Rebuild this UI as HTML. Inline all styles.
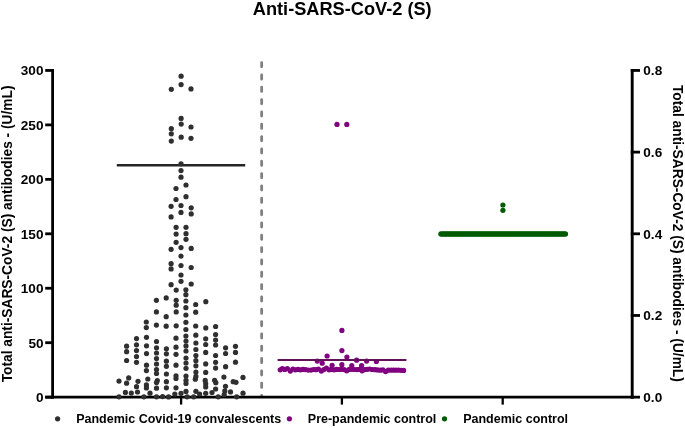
<!DOCTYPE html>
<html><head><meta charset="utf-8"><title>Anti-SARS-CoV-2 (S)</title>
<style>
html,body{margin:0;padding:0;background:#fff;}
body{width:685px;height:428px;overflow:hidden;}
svg{display:block;will-change:transform;font-family:"Liberation Sans", sans-serif;}
text{fill:#000;}
</style></head><body>
<svg width="685" height="428" viewBox="0 0 685 428">
<rect width="685" height="428" fill="#ffffff"/>
<text x="252.8" y="14.9" font-size="18.2" font-weight="bold">Anti-SARS-CoV-2 (S)</text>
<line x1="261.65" y1="62.6" x2="261.65" y2="396" stroke="#808080" stroke-width="2.8" stroke-linecap="round" stroke-dasharray="4.2 8.13"/>
<line x1="52.6" y1="69.0" x2="52.6" y2="398.6" stroke="#000" stroke-width="2.8"/>
<line x1="45.2" y1="397.15" x2="54" y2="397.15" stroke="#000" stroke-width="2.8"/>
<text x="43.5" y="402.05" font-size="13.6" font-weight="bold" text-anchor="end">0</text>
<line x1="45.2" y1="342.70" x2="54" y2="342.70" stroke="#000" stroke-width="2.8"/>
<text x="43.5" y="347.60" font-size="13.6" font-weight="bold" text-anchor="end">50</text>
<line x1="45.2" y1="288.25" x2="54" y2="288.25" stroke="#000" stroke-width="2.8"/>
<text x="43.5" y="293.15" font-size="13.6" font-weight="bold" text-anchor="end">100</text>
<line x1="45.2" y1="233.80" x2="54" y2="233.80" stroke="#000" stroke-width="2.8"/>
<text x="43.5" y="238.70" font-size="13.6" font-weight="bold" text-anchor="end">150</text>
<line x1="45.2" y1="179.35" x2="54" y2="179.35" stroke="#000" stroke-width="2.8"/>
<text x="43.5" y="184.25" font-size="13.6" font-weight="bold" text-anchor="end">200</text>
<line x1="45.2" y1="124.90" x2="54" y2="124.90" stroke="#000" stroke-width="2.8"/>
<text x="43.5" y="129.80" font-size="13.6" font-weight="bold" text-anchor="end">250</text>
<line x1="45.2" y1="70.45" x2="54" y2="70.45" stroke="#000" stroke-width="2.8"/>
<text x="43.5" y="75.35" font-size="13.6" font-weight="bold" text-anchor="end">300</text>
<line x1="45.2" y1="397.15" x2="634" y2="397.15" stroke="#000" stroke-width="2.9"/>
<line x1="181.1" y1="397.15" x2="181.1" y2="404.6" stroke="#000" stroke-width="2.3"/>
<line x1="341.9" y1="397.15" x2="341.9" y2="404.6" stroke="#000" stroke-width="2.3"/>
<line x1="502.7" y1="397.15" x2="502.7" y2="404.6" stroke="#000" stroke-width="2.3"/>
<line x1="632.2" y1="69.0" x2="632.2" y2="398.6" stroke="#000" stroke-width="2.9"/>
<line x1="630.8" y1="397.15" x2="640" y2="397.15" stroke="#000" stroke-width="2.8"/>
<text x="643.3" y="402.05" font-size="13.6" font-weight="bold">0.0</text>
<line x1="630.8" y1="315.47" x2="640" y2="315.47" stroke="#000" stroke-width="2.8"/>
<text x="643.3" y="320.37" font-size="13.6" font-weight="bold">0.2</text>
<line x1="630.8" y1="233.80" x2="640" y2="233.80" stroke="#000" stroke-width="2.8"/>
<text x="643.3" y="238.70" font-size="13.6" font-weight="bold">0.4</text>
<line x1="630.8" y1="152.12" x2="640" y2="152.12" stroke="#000" stroke-width="2.8"/>
<text x="643.3" y="157.02" font-size="13.6" font-weight="bold">0.6</text>
<line x1="630.8" y1="70.45" x2="640" y2="70.45" stroke="#000" stroke-width="2.8"/>
<text x="643.3" y="75.35" font-size="13.6" font-weight="bold">0.8</text>
<text transform="translate(11.9 233.9) rotate(-90)" font-size="13.75" font-weight="bold" text-anchor="middle">Total anti-SARS-CoV-2 (S) antibodies - (U/mL)</text>
<text transform="translate(673.1 233.4) rotate(90)" font-size="13.75" font-weight="bold" text-anchor="middle">Total anti-SARS-CoV-2 (S) antibodies - (U/mL)</text>
<line x1="116.8" y1="165.3" x2="245.2" y2="165.3" stroke="#262626" stroke-width="2.4"/>
<circle cx="181.1" cy="76.2" r="2.6" fill="#2f2f2f"/>
<circle cx="181.1" cy="84.6" r="2.6" fill="#2f2f2f"/>
<circle cx="171.3" cy="89.3" r="2.6" fill="#2f2f2f"/>
<circle cx="191.0" cy="88.9" r="2.6" fill="#2f2f2f"/>
<circle cx="181.1" cy="118.4" r="2.6" fill="#2f2f2f"/>
<circle cx="181.2" cy="124.1" r="2.6" fill="#2f2f2f"/>
<circle cx="171.3" cy="128.7" r="2.6" fill="#2f2f2f"/>
<circle cx="191.0" cy="127.0" r="2.6" fill="#2f2f2f"/>
<circle cx="171.3" cy="133.8" r="2.6" fill="#2f2f2f"/>
<circle cx="181.2" cy="137.2" r="2.6" fill="#2f2f2f"/>
<circle cx="191.0" cy="138.3" r="2.6" fill="#2f2f2f"/>
<circle cx="171.3" cy="141.1" r="2.6" fill="#2f2f2f"/>
<circle cx="181.0" cy="163.8" r="2.6" fill="#2f2f2f"/>
<circle cx="181.0" cy="170.6" r="2.6" fill="#2f2f2f"/>
<circle cx="181.0" cy="177.2" r="2.6" fill="#2f2f2f"/>
<circle cx="186.0" cy="185.0" r="2.6" fill="#2f2f2f"/>
<circle cx="176.0" cy="188.5" r="2.6" fill="#2f2f2f"/>
<circle cx="186.0" cy="196.7" r="2.6" fill="#2f2f2f"/>
<circle cx="176.0" cy="199.5" r="2.6" fill="#2f2f2f"/>
<circle cx="171.1" cy="206.3" r="2.6" fill="#2f2f2f"/>
<circle cx="181.0" cy="205.5" r="2.6" fill="#2f2f2f"/>
<circle cx="191.2" cy="207.8" r="2.6" fill="#2f2f2f"/>
<circle cx="181.0" cy="212.4" r="2.6" fill="#2f2f2f"/>
<circle cx="191.2" cy="213.9" r="2.6" fill="#2f2f2f"/>
<circle cx="171.1" cy="216.9" r="2.6" fill="#2f2f2f"/>
<circle cx="176.1" cy="227.3" r="2.6" fill="#2f2f2f"/>
<circle cx="186.0" cy="227.3" r="2.6" fill="#2f2f2f"/>
<circle cx="176.1" cy="234.1" r="2.6" fill="#2f2f2f"/>
<circle cx="186.0" cy="233.7" r="2.6" fill="#2f2f2f"/>
<circle cx="186.0" cy="239.3" r="2.6" fill="#2f2f2f"/>
<circle cx="176.1" cy="242.3" r="2.6" fill="#2f2f2f"/>
<circle cx="171.1" cy="249.3" r="2.6" fill="#2f2f2f"/>
<circle cx="181.0" cy="247.6" r="2.6" fill="#2f2f2f"/>
<circle cx="191.2" cy="248.4" r="2.6" fill="#2f2f2f"/>
<circle cx="181.0" cy="256.1" r="2.6" fill="#2f2f2f"/>
<circle cx="171.1" cy="263.7" r="2.6" fill="#2f2f2f"/>
<circle cx="171.1" cy="268.9" r="2.6" fill="#2f2f2f"/>
<circle cx="181.0" cy="265.5" r="2.6" fill="#2f2f2f"/>
<circle cx="191.2" cy="267.5" r="2.6" fill="#2f2f2f"/>
<circle cx="181.0" cy="275.0" r="2.6" fill="#2f2f2f"/>
<circle cx="181.0" cy="281.3" r="2.6" fill="#2f2f2f"/>
<circle cx="171.1" cy="284.7" r="2.6" fill="#2f2f2f"/>
<circle cx="191.2" cy="284.0" r="2.6" fill="#2f2f2f"/>
<circle cx="176.2" cy="290.1" r="2.6" fill="#2f2f2f"/>
<circle cx="185.9" cy="289.8" r="2.6" fill="#2f2f2f"/>
<circle cx="185.9" cy="294.7" r="2.6" fill="#2f2f2f"/>
<circle cx="156.4" cy="300.3" r="2.6" fill="#2f2f2f"/>
<circle cx="166.2" cy="297.9" r="2.6" fill="#2f2f2f"/>
<circle cx="176.2" cy="300.3" r="2.6" fill="#2f2f2f"/>
<circle cx="185.9" cy="301.0" r="2.6" fill="#2f2f2f"/>
<circle cx="205.8" cy="301.7" r="2.6" fill="#2f2f2f"/>
<circle cx="176.2" cy="305.2" r="2.6" fill="#2f2f2f"/>
<circle cx="195.7" cy="304.5" r="2.6" fill="#2f2f2f"/>
<circle cx="185.9" cy="307.7" r="2.6" fill="#2f2f2f"/>
<circle cx="156.4" cy="311.9" r="2.6" fill="#2f2f2f"/>
<circle cx="176.2" cy="311.9" r="2.6" fill="#2f2f2f"/>
<circle cx="195.7" cy="312.2" r="2.6" fill="#2f2f2f"/>
<circle cx="185.9" cy="315.0" r="2.6" fill="#2f2f2f"/>
<circle cx="166.2" cy="316.7" r="2.6" fill="#2f2f2f"/>
<circle cx="146.3" cy="322.0" r="2.6" fill="#2f2f2f"/>
<circle cx="185.9" cy="322.3" r="2.6" fill="#2f2f2f"/>
<circle cx="146.3" cy="327.6" r="2.6" fill="#2f2f2f"/>
<circle cx="156.4" cy="325.1" r="2.6" fill="#2f2f2f"/>
<circle cx="166.2" cy="326.2" r="2.6" fill="#2f2f2f"/>
<circle cx="176.2" cy="325.8" r="2.6" fill="#2f2f2f"/>
<circle cx="195.7" cy="326.0" r="2.6" fill="#2f2f2f"/>
<circle cx="205.8" cy="327.9" r="2.6" fill="#2f2f2f"/>
<circle cx="215.6" cy="326.5" r="2.6" fill="#2f2f2f"/>
<circle cx="185.9" cy="329.5" r="2.6" fill="#2f2f2f"/>
<circle cx="195.8" cy="335.2" r="2.6" fill="#2f2f2f"/>
<circle cx="215.6" cy="334.5" r="2.6" fill="#2f2f2f"/>
<circle cx="185.9" cy="336.0" r="2.6" fill="#2f2f2f"/>
<circle cx="126.6" cy="346.2" r="2.6" fill="#2f2f2f"/>
<circle cx="126.6" cy="351.7" r="2.6" fill="#2f2f2f"/>
<circle cx="126.6" cy="360.5" r="2.6" fill="#2f2f2f"/>
<circle cx="136.5" cy="338.6" r="2.6" fill="#2f2f2f"/>
<circle cx="136.5" cy="344.8" r="2.6" fill="#2f2f2f"/>
<circle cx="136.5" cy="350.6" r="2.6" fill="#2f2f2f"/>
<circle cx="136.5" cy="356.5" r="2.6" fill="#2f2f2f"/>
<circle cx="136.5" cy="362.3" r="2.6" fill="#2f2f2f"/>
<circle cx="146.5" cy="337.3" r="2.6" fill="#2f2f2f"/>
<circle cx="146.5" cy="345.8" r="2.6" fill="#2f2f2f"/>
<circle cx="146.5" cy="353.6" r="2.6" fill="#2f2f2f"/>
<circle cx="146.5" cy="365.2" r="2.6" fill="#2f2f2f"/>
<circle cx="146.4" cy="370.6" r="2.6" fill="#2f2f2f"/>
<circle cx="156.5" cy="341.5" r="2.6" fill="#2f2f2f"/>
<circle cx="156.5" cy="347.8" r="2.6" fill="#2f2f2f"/>
<circle cx="156.5" cy="353.0" r="2.6" fill="#2f2f2f"/>
<circle cx="156.5" cy="358.6" r="2.6" fill="#2f2f2f"/>
<circle cx="156.5" cy="364.0" r="2.6" fill="#2f2f2f"/>
<circle cx="156.5" cy="369.5" r="2.6" fill="#2f2f2f"/>
<circle cx="156.5" cy="373.5" r="2.6" fill="#2f2f2f"/>
<circle cx="166.4" cy="348.8" r="2.6" fill="#2f2f2f"/>
<circle cx="166.4" cy="353.8" r="2.6" fill="#2f2f2f"/>
<circle cx="166.4" cy="361.2" r="2.6" fill="#2f2f2f"/>
<circle cx="166.4" cy="366.3" r="2.6" fill="#2f2f2f"/>
<circle cx="166.4" cy="374.0" r="2.6" fill="#2f2f2f"/>
<circle cx="176.0" cy="338.2" r="2.6" fill="#2f2f2f"/>
<circle cx="176.0" cy="347.2" r="2.6" fill="#2f2f2f"/>
<circle cx="176.0" cy="354.3" r="2.6" fill="#2f2f2f"/>
<circle cx="176.0" cy="365.2" r="2.6" fill="#2f2f2f"/>
<circle cx="186.0" cy="341.0" r="2.6" fill="#2f2f2f"/>
<circle cx="186.0" cy="345.9" r="2.6" fill="#2f2f2f"/>
<circle cx="186.0" cy="351.0" r="2.6" fill="#2f2f2f"/>
<circle cx="186.0" cy="358.0" r="2.6" fill="#2f2f2f"/>
<circle cx="186.0" cy="363.0" r="2.6" fill="#2f2f2f"/>
<circle cx="195.9" cy="343.0" r="2.6" fill="#2f2f2f"/>
<circle cx="195.9" cy="349.5" r="2.6" fill="#2f2f2f"/>
<circle cx="195.9" cy="355.6" r="2.6" fill="#2f2f2f"/>
<circle cx="195.9" cy="360.7" r="2.6" fill="#2f2f2f"/>
<circle cx="195.9" cy="365.8" r="2.6" fill="#2f2f2f"/>
<circle cx="205.7" cy="338.8" r="2.6" fill="#2f2f2f"/>
<circle cx="205.7" cy="344.5" r="2.6" fill="#2f2f2f"/>
<circle cx="205.7" cy="352.4" r="2.6" fill="#2f2f2f"/>
<circle cx="205.7" cy="363.9" r="2.6" fill="#2f2f2f"/>
<circle cx="215.6" cy="340.1" r="2.6" fill="#2f2f2f"/>
<circle cx="215.6" cy="345.0" r="2.6" fill="#2f2f2f"/>
<circle cx="215.6" cy="355.5" r="2.6" fill="#2f2f2f"/>
<circle cx="215.6" cy="362.3" r="2.6" fill="#2f2f2f"/>
<circle cx="225.6" cy="347.8" r="2.6" fill="#2f2f2f"/>
<circle cx="225.6" cy="353.5" r="2.6" fill="#2f2f2f"/>
<circle cx="225.6" cy="366.7" r="2.6" fill="#2f2f2f"/>
<circle cx="235.5" cy="346.3" r="2.6" fill="#2f2f2f"/>
<circle cx="235.5" cy="352.4" r="2.6" fill="#2f2f2f"/>
<circle cx="235.5" cy="362.2" r="2.6" fill="#2f2f2f"/>
<circle cx="119.0" cy="381.1" r="2.6" fill="#2f2f2f"/>
<circle cx="128.7" cy="377.9" r="2.6" fill="#2f2f2f"/>
<circle cx="126.6" cy="383.2" r="2.6" fill="#2f2f2f"/>
<circle cx="125.4" cy="392.4" r="2.6" fill="#2f2f2f"/>
<circle cx="131.3" cy="393.1" r="2.6" fill="#2f2f2f"/>
<circle cx="119.0" cy="396.8" r="2.6" fill="#2f2f2f"/>
<circle cx="138.0" cy="381.3" r="2.6" fill="#2f2f2f"/>
<circle cx="136.5" cy="386.7" r="2.6" fill="#2f2f2f"/>
<circle cx="137.5" cy="392.0" r="2.6" fill="#2f2f2f"/>
<circle cx="147.8" cy="379.0" r="2.6" fill="#2f2f2f"/>
<circle cx="146.4" cy="384.9" r="2.6" fill="#2f2f2f"/>
<circle cx="146.4" cy="387.9" r="2.6" fill="#2f2f2f"/>
<circle cx="150.0" cy="393.2" r="2.6" fill="#2f2f2f"/>
<circle cx="143.9" cy="396.8" r="2.6" fill="#2f2f2f"/>
<circle cx="157.3" cy="380.6" r="2.6" fill="#2f2f2f"/>
<circle cx="156.5" cy="382.6" r="2.6" fill="#2f2f2f"/>
<circle cx="156.5" cy="388.2" r="2.6" fill="#2f2f2f"/>
<circle cx="156.5" cy="396.8" r="2.6" fill="#2f2f2f"/>
<circle cx="162.6" cy="396.6" r="2.6" fill="#2f2f2f"/>
<circle cx="166.4" cy="381.7" r="2.6" fill="#2f2f2f"/>
<circle cx="166.4" cy="387.8" r="2.6" fill="#2f2f2f"/>
<circle cx="168.6" cy="396.9" r="2.6" fill="#2f2f2f"/>
<circle cx="176.0" cy="375.8" r="2.6" fill="#2f2f2f"/>
<circle cx="176.0" cy="378.5" r="2.6" fill="#2f2f2f"/>
<circle cx="176.0" cy="387.8" r="2.6" fill="#2f2f2f"/>
<circle cx="174.8" cy="394.1" r="2.6" fill="#2f2f2f"/>
<circle cx="181.0" cy="393.3" r="2.6" fill="#2f2f2f"/>
<circle cx="186.0" cy="368.3" r="2.6" fill="#2f2f2f"/>
<circle cx="186.0" cy="376.0" r="2.6" fill="#2f2f2f"/>
<circle cx="186.0" cy="380.3" r="2.6" fill="#2f2f2f"/>
<circle cx="186.0" cy="383.5" r="2.6" fill="#2f2f2f"/>
<circle cx="186.0" cy="391.4" r="2.6" fill="#2f2f2f"/>
<circle cx="187.1" cy="396.8" r="2.6" fill="#2f2f2f"/>
<circle cx="195.9" cy="372.1" r="2.6" fill="#2f2f2f"/>
<circle cx="195.9" cy="376.4" r="2.6" fill="#2f2f2f"/>
<circle cx="195.3" cy="379.2" r="2.6" fill="#2f2f2f"/>
<circle cx="195.9" cy="391.3" r="2.6" fill="#2f2f2f"/>
<circle cx="193.7" cy="396.8" r="2.6" fill="#2f2f2f"/>
<circle cx="199.6" cy="394.0" r="2.6" fill="#2f2f2f"/>
<circle cx="205.7" cy="372.4" r="2.6" fill="#2f2f2f"/>
<circle cx="205.2" cy="380.4" r="2.6" fill="#2f2f2f"/>
<circle cx="205.7" cy="383.7" r="2.6" fill="#2f2f2f"/>
<circle cx="205.7" cy="386.9" r="2.6" fill="#2f2f2f"/>
<circle cx="205.7" cy="393.3" r="2.6" fill="#2f2f2f"/>
<circle cx="212.0" cy="392.5" r="2.6" fill="#2f2f2f"/>
<circle cx="215.6" cy="368.1" r="2.6" fill="#2f2f2f"/>
<circle cx="214.6" cy="380.3" r="2.6" fill="#2f2f2f"/>
<circle cx="215.8" cy="382.7" r="2.6" fill="#2f2f2f"/>
<circle cx="215.6" cy="389.0" r="2.6" fill="#2f2f2f"/>
<circle cx="218.2" cy="396.8" r="2.6" fill="#2f2f2f"/>
<circle cx="223.9" cy="377.1" r="2.6" fill="#2f2f2f"/>
<circle cx="225.5" cy="386.3" r="2.6" fill="#2f2f2f"/>
<circle cx="224.8" cy="390.9" r="2.6" fill="#2f2f2f"/>
<circle cx="224.2" cy="394.5" r="2.6" fill="#2f2f2f"/>
<circle cx="230.5" cy="391.9" r="2.6" fill="#2f2f2f"/>
<circle cx="233.2" cy="381.7" r="2.6" fill="#2f2f2f"/>
<circle cx="236.0" cy="382.3" r="2.6" fill="#2f2f2f"/>
<circle cx="243.0" cy="377.4" r="2.6" fill="#2f2f2f"/>
<circle cx="243.0" cy="393.2" r="2.6" fill="#2f2f2f"/>
<circle cx="236.6" cy="396.8" r="2.6" fill="#2f2f2f"/>
<circle cx="280.2" cy="369.8" r="2.6" fill="#800080"/>
<circle cx="282.3" cy="368.6" r="2.6" fill="#800080"/>
<circle cx="284.8" cy="369.4" r="2.6" fill="#800080"/>
<circle cx="287.4" cy="368.6" r="2.6" fill="#800080"/>
<circle cx="290.3" cy="371.1" r="2.6" fill="#800080"/>
<circle cx="292.9" cy="369.0" r="2.6" fill="#800080"/>
<circle cx="295.4" cy="369.8" r="2.6" fill="#800080"/>
<circle cx="298.0" cy="369.4" r="2.6" fill="#800080"/>
<circle cx="300.5" cy="369.8" r="2.6" fill="#800080"/>
<circle cx="303.0" cy="369.4" r="2.6" fill="#800080"/>
<circle cx="305.5" cy="369.6" r="2.6" fill="#800080"/>
<circle cx="308.2" cy="370.1" r="2.6" fill="#800080"/>
<circle cx="311.1" cy="370.1" r="2.6" fill="#800080"/>
<circle cx="313.6" cy="369.5" r="2.6" fill="#800080"/>
<circle cx="316.0" cy="369.7" r="2.6" fill="#800080"/>
<circle cx="318.4" cy="369.0" r="2.6" fill="#800080"/>
<circle cx="321.3" cy="371.1" r="2.6" fill="#800080"/>
<circle cx="323.8" cy="369.6" r="2.6" fill="#800080"/>
<circle cx="326.4" cy="368.2" r="2.6" fill="#800080"/>
<circle cx="329.0" cy="369.8" r="2.6" fill="#800080"/>
<circle cx="331.5" cy="369.4" r="2.6" fill="#800080"/>
<circle cx="334.1" cy="369.8" r="2.6" fill="#800080"/>
<circle cx="336.6" cy="369.4" r="2.6" fill="#800080"/>
<circle cx="339.1" cy="369.5" r="2.6" fill="#800080"/>
<circle cx="341.6" cy="369.3" r="2.6" fill="#800080"/>
<circle cx="344.2" cy="369.6" r="2.6" fill="#800080"/>
<circle cx="346.7" cy="370.8" r="2.6" fill="#800080"/>
<circle cx="349.2" cy="369.4" r="2.6" fill="#800080"/>
<circle cx="351.7" cy="369.3" r="2.6" fill="#800080"/>
<circle cx="354.2" cy="369.5" r="2.6" fill="#800080"/>
<circle cx="356.8" cy="369.6" r="2.6" fill="#800080"/>
<circle cx="359.3" cy="369.4" r="2.6" fill="#800080"/>
<circle cx="362.1" cy="370.8" r="2.6" fill="#800080"/>
<circle cx="364.6" cy="369.6" r="2.6" fill="#800080"/>
<circle cx="367.1" cy="369.3" r="2.6" fill="#800080"/>
<circle cx="369.6" cy="369.0" r="2.6" fill="#800080"/>
<circle cx="372.2" cy="369.5" r="2.6" fill="#800080"/>
<circle cx="374.8" cy="369.7" r="2.6" fill="#800080"/>
<circle cx="377.4" cy="369.9" r="2.6" fill="#800080"/>
<circle cx="380.2" cy="370.2" r="2.6" fill="#800080"/>
<circle cx="382.9" cy="369.9" r="2.6" fill="#800080"/>
<circle cx="385.6" cy="371.6" r="2.6" fill="#800080"/>
<circle cx="388.3" cy="370.1" r="2.6" fill="#800080"/>
<circle cx="391.0" cy="370.2" r="2.6" fill="#800080"/>
<circle cx="393.5" cy="370.1" r="2.6" fill="#800080"/>
<circle cx="395.9" cy="370.2" r="2.6" fill="#800080"/>
<circle cx="398.5" cy="370.1" r="2.6" fill="#800080"/>
<circle cx="401.0" cy="370.3" r="2.6" fill="#800080"/>
<circle cx="403.6" cy="370.4" r="2.6" fill="#800080"/>
<circle cx="337.0" cy="124.4" r="2.6" fill="#800080"/>
<circle cx="346.8" cy="124.4" r="2.6" fill="#800080"/>
<circle cx="341.9" cy="330.4" r="2.6" fill="#800080"/>
<circle cx="341.9" cy="350.6" r="2.6" fill="#800080"/>
<circle cx="327.1" cy="356.0" r="2.6" fill="#800080"/>
<circle cx="346.9" cy="357.0" r="2.6" fill="#800080"/>
<circle cx="356.6" cy="360.2" r="2.6" fill="#800080"/>
<circle cx="317.3" cy="361.1" r="2.6" fill="#800080"/>
<circle cx="322.2" cy="363.2" r="2.6" fill="#800080"/>
<circle cx="332.1" cy="365.3" r="2.6" fill="#800080"/>
<circle cx="341.9" cy="364.7" r="2.6" fill="#800080"/>
<circle cx="351.8" cy="365.5" r="2.6" fill="#800080"/>
<circle cx="366.6" cy="361.1" r="2.6" fill="#800080"/>
<circle cx="376.4" cy="361.5" r="2.6" fill="#800080"/>
<circle cx="361.6" cy="365.7" r="2.6" fill="#800080"/>
<line x1="277.6" y1="360.0" x2="406.4" y2="360.0" stroke="#62105a" stroke-width="2"/>
<circle cx="441.0" cy="234.0" r="2.7" fill="#005a00"/>
<circle cx="442.6" cy="234.0" r="2.7" fill="#005a00"/>
<circle cx="444.2" cy="234.0" r="2.7" fill="#005a00"/>
<circle cx="445.8" cy="234.0" r="2.7" fill="#005a00"/>
<circle cx="447.4" cy="234.0" r="2.7" fill="#005a00"/>
<circle cx="449.0" cy="234.0" r="2.7" fill="#005a00"/>
<circle cx="450.6" cy="234.0" r="2.7" fill="#005a00"/>
<circle cx="452.2" cy="234.0" r="2.7" fill="#005a00"/>
<circle cx="453.8" cy="234.0" r="2.7" fill="#005a00"/>
<circle cx="455.4" cy="234.0" r="2.7" fill="#005a00"/>
<circle cx="456.9" cy="234.0" r="2.7" fill="#005a00"/>
<circle cx="458.5" cy="234.0" r="2.7" fill="#005a00"/>
<circle cx="460.1" cy="234.0" r="2.7" fill="#005a00"/>
<circle cx="461.7" cy="234.0" r="2.7" fill="#005a00"/>
<circle cx="463.3" cy="234.0" r="2.7" fill="#005a00"/>
<circle cx="464.9" cy="234.0" r="2.7" fill="#005a00"/>
<circle cx="466.5" cy="234.0" r="2.7" fill="#005a00"/>
<circle cx="468.1" cy="234.0" r="2.7" fill="#005a00"/>
<circle cx="469.7" cy="234.0" r="2.7" fill="#005a00"/>
<circle cx="471.3" cy="234.0" r="2.7" fill="#005a00"/>
<circle cx="472.9" cy="234.0" r="2.7" fill="#005a00"/>
<circle cx="474.5" cy="234.0" r="2.7" fill="#005a00"/>
<circle cx="476.1" cy="234.0" r="2.7" fill="#005a00"/>
<circle cx="477.7" cy="234.0" r="2.7" fill="#005a00"/>
<circle cx="479.3" cy="234.0" r="2.7" fill="#005a00"/>
<circle cx="480.9" cy="234.0" r="2.7" fill="#005a00"/>
<circle cx="482.5" cy="234.0" r="2.7" fill="#005a00"/>
<circle cx="484.1" cy="234.0" r="2.7" fill="#005a00"/>
<circle cx="485.7" cy="234.0" r="2.7" fill="#005a00"/>
<circle cx="487.3" cy="234.0" r="2.7" fill="#005a00"/>
<circle cx="488.8" cy="234.0" r="2.7" fill="#005a00"/>
<circle cx="490.4" cy="234.0" r="2.7" fill="#005a00"/>
<circle cx="492.0" cy="234.0" r="2.7" fill="#005a00"/>
<circle cx="493.6" cy="234.0" r="2.7" fill="#005a00"/>
<circle cx="495.2" cy="234.0" r="2.7" fill="#005a00"/>
<circle cx="496.8" cy="234.0" r="2.7" fill="#005a00"/>
<circle cx="498.4" cy="234.0" r="2.7" fill="#005a00"/>
<circle cx="500.0" cy="234.0" r="2.7" fill="#005a00"/>
<circle cx="501.6" cy="234.0" r="2.7" fill="#005a00"/>
<circle cx="503.2" cy="234.0" r="2.7" fill="#005a00"/>
<circle cx="504.8" cy="234.0" r="2.7" fill="#005a00"/>
<circle cx="506.4" cy="234.0" r="2.7" fill="#005a00"/>
<circle cx="508.0" cy="234.0" r="2.7" fill="#005a00"/>
<circle cx="509.6" cy="234.0" r="2.7" fill="#005a00"/>
<circle cx="511.2" cy="234.0" r="2.7" fill="#005a00"/>
<circle cx="512.8" cy="234.0" r="2.7" fill="#005a00"/>
<circle cx="514.4" cy="234.0" r="2.7" fill="#005a00"/>
<circle cx="516.0" cy="234.0" r="2.7" fill="#005a00"/>
<circle cx="517.6" cy="234.0" r="2.7" fill="#005a00"/>
<circle cx="519.1" cy="234.0" r="2.7" fill="#005a00"/>
<circle cx="520.7" cy="234.0" r="2.7" fill="#005a00"/>
<circle cx="522.3" cy="234.0" r="2.7" fill="#005a00"/>
<circle cx="523.9" cy="234.0" r="2.7" fill="#005a00"/>
<circle cx="525.5" cy="234.0" r="2.7" fill="#005a00"/>
<circle cx="527.1" cy="234.0" r="2.7" fill="#005a00"/>
<circle cx="528.7" cy="234.0" r="2.7" fill="#005a00"/>
<circle cx="530.3" cy="234.0" r="2.7" fill="#005a00"/>
<circle cx="531.9" cy="234.0" r="2.7" fill="#005a00"/>
<circle cx="533.5" cy="234.0" r="2.7" fill="#005a00"/>
<circle cx="535.1" cy="234.0" r="2.7" fill="#005a00"/>
<circle cx="536.7" cy="234.0" r="2.7" fill="#005a00"/>
<circle cx="538.3" cy="234.0" r="2.7" fill="#005a00"/>
<circle cx="539.9" cy="234.0" r="2.7" fill="#005a00"/>
<circle cx="541.5" cy="234.0" r="2.7" fill="#005a00"/>
<circle cx="543.1" cy="234.0" r="2.7" fill="#005a00"/>
<circle cx="544.7" cy="234.0" r="2.7" fill="#005a00"/>
<circle cx="546.3" cy="234.0" r="2.7" fill="#005a00"/>
<circle cx="547.9" cy="234.0" r="2.7" fill="#005a00"/>
<circle cx="549.5" cy="234.0" r="2.7" fill="#005a00"/>
<circle cx="551.0" cy="234.0" r="2.7" fill="#005a00"/>
<circle cx="552.6" cy="234.0" r="2.7" fill="#005a00"/>
<circle cx="554.2" cy="234.0" r="2.7" fill="#005a00"/>
<circle cx="555.8" cy="234.0" r="2.7" fill="#005a00"/>
<circle cx="557.4" cy="234.0" r="2.7" fill="#005a00"/>
<circle cx="559.0" cy="234.0" r="2.7" fill="#005a00"/>
<circle cx="560.6" cy="234.0" r="2.7" fill="#005a00"/>
<circle cx="562.2" cy="234.0" r="2.7" fill="#005a00"/>
<circle cx="563.8" cy="234.0" r="2.7" fill="#005a00"/>
<circle cx="565.4" cy="234.0" r="2.7" fill="#005a00"/>
<circle cx="502.9" cy="205.0" r="2.6" fill="#005a00"/>
<circle cx="502.9" cy="210.3" r="2.6" fill="#005a00"/>
<circle cx="57.6" cy="418.8" r="2.6" fill="#2f2f2f"/>
<circle cx="289.4" cy="418.8" r="2.6" fill="#800080"/>
<circle cx="444.5" cy="418.8" r="2.6" fill="#005a00"/>
<text x="76.2" y="423.2" font-size="12.5" font-weight="bold">Pandemic Covid-19 convalescents</text>
<text x="307.8" y="423.2" font-size="12.5" font-weight="bold">Pre-pandemic control</text>
<text x="463.2" y="423.2" font-size="12.5" font-weight="bold">Pandemic control</text>
</svg>
</body></html>
